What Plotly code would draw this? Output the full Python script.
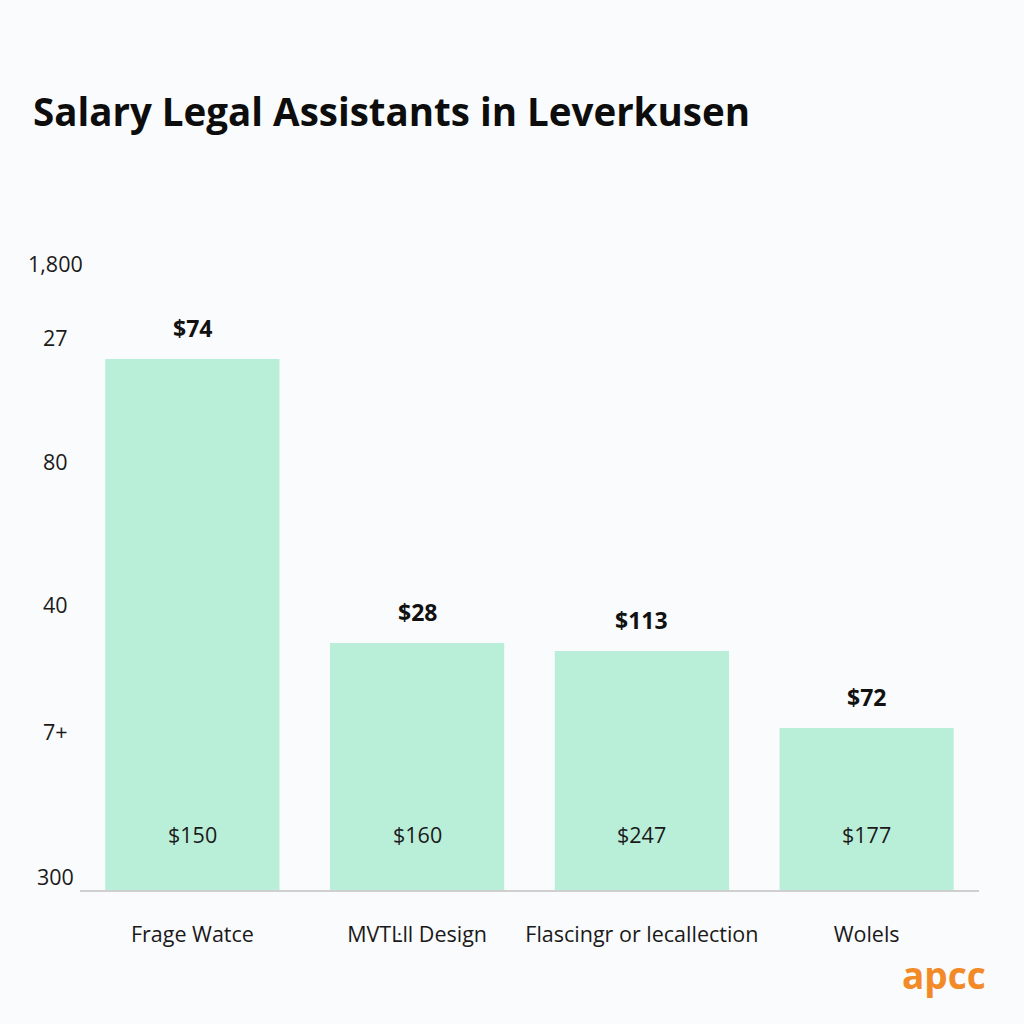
import plotly.graph_objects as go

# ---- data ----
categories = ["Frage Watce", "MVTĿll Design", "Flascingr or lecallection", "Wolels"]
bar_values = [531, 247, 239, 162]
top_labels = ["$74", "$28", "$113", "$72"]
inner_labels = ["$150", "$160", "$247", "$177"]
ytick_vals = [14, 159, 286, 429, 553, 627]
ytick_text = ["300", "7+", "40", "80", "27", "1,800"]

BG = "#fafbfc"
BAR = "#b9eed8"

fig = go.Figure()
fig.add_trace(go.Bar(
    x=categories, y=bar_values, marker=dict(color=BAR, line=dict(width=0)),
    width=0.775, hoverinfo="skip",
))

annotations = []
for c, v, t in zip(categories, bar_values, top_labels):
    annotations.append(dict(x=c, y=v, xref="x", yref="y", text=t, showarrow=False,
                            yanchor="bottom", yshift=13,
                            font=dict(family="Open Sans", size=23, color="#111111", weight="bold")))
for c, t in zip(categories, inner_labels):
    annotations.append(dict(x=c, y=56, xref="x", yref="y", text=t, showarrow=False,
                            yanchor="middle",
                            font=dict(family="Open Sans", size=21.5, color="#1a1a1a")))
for v, t in zip(ytick_vals, ytick_text):
    annotations.append(dict(x=-0.0278, y=v, xref="paper", yref="y", text=t, showarrow=False,
                            xanchor="center", yanchor="middle",
                            font=dict(family="Open Sans", size=21.5, color="#1a1a1a")))
annotations.append(dict(x=1.01, y=-0.128, xref="paper", yref="paper", text="apcc", showarrow=False,
                        xanchor="right", yanchor="middle",
                        font=dict(family="Open Sans", size=37, color="#f28a28", weight="bold")))

fig.update_layout(
    width=1024, height=1024,
    paper_bgcolor=BG, plot_bgcolor=BG,
    margin=dict(l=80, r=45, t=230, b=134),
    showlegend=False,
    title=dict(text="Salary Legal Assistants in Leverkusen", x=33/1024, xanchor="left",
               y=1 - 113/1024, yanchor="middle",
               font=dict(family="Open Sans", size=38.5, color="#0d0d0d", weight="bold")),
    xaxis=dict(showgrid=False, zeroline=False, showline=True, linecolor="#cfcfcf", linewidth=1.5,
               ticks="", ticklabelstandoff=24,
               tickfont=dict(family="Open Sans", size=21.5, color="#1a1a1a"),
               range=[-0.5, 3.5]),
    yaxis=dict(showgrid=False, zeroline=False, showticklabels=False, range=[0, 660]),
    annotations=annotations,
)

fig.write_html("out.html")
